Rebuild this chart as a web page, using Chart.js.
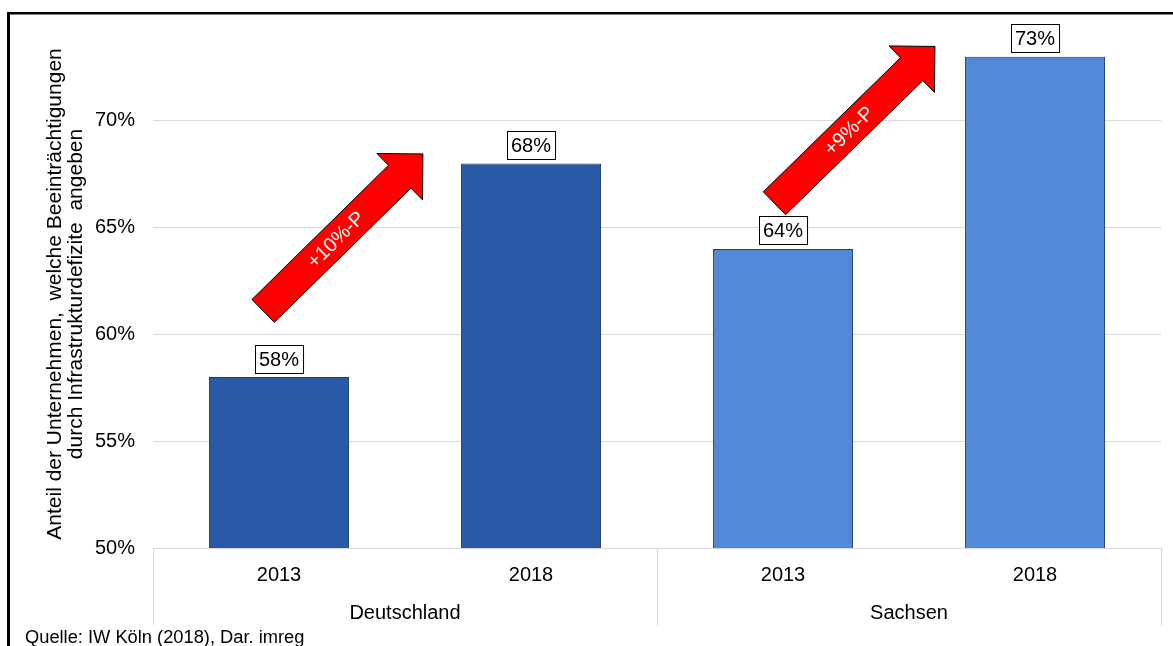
<!DOCTYPE html>
<html>
<head>
<meta charset="utf-8">
<script src="https://cdn.jsdelivr.net/npm/chart.js@4.4.1/dist/chart.umd.min.js"></script>
<style>
  html, body { margin: 0; padding: 0; background: #fff; }
  #wrap { position: absolute; left: 0; top: 0; width: 1173px; height: 646px; }
</style>
</head>
<body>
<div id="wrap"><canvas id="c" width="1173" height="646"></canvas></div>
<script>
// ---- data ----
const categories = ['2013', '2018', '2013', '2018'];
const groups = ['Deutschland', 'Sachsen'];
const values = [58, 68, 64, 73];
const yTickValues = [50, 55, 60, 65, 70];
const arrowLabels = ['+10%-P', '+9%-P'];
const yTitleLines = ['Anteil der Unternehmen,  welche Beeinträchtigungen', 'durch Infrastrukturdefizite  angeben'];
const sourceText = 'Quelle: IW Köln (2018), Dar. imreg';

// ---- styles ----
const FONT = '"Liberation Sans", Arial, sans-serif';
const barColors = ['#2A5AA5', '#2A5AA5', '#5288D6', '#5288D6'];
const gridColor = '#D9D9D9';

// arrow annotations in (category index, value) units
const arrowDefs = [
  { from: [-0.063, 61.1], to: [0.571, 68.45], label: arrowLabels[0], textShift: 6 },
  { from: [1.966, 66.14], to: [2.603, 73.48], label: arrowLabels[1], textShift: 8 }
];

function xAt(scale, v) {
  const a = scale.getPixelForValue(0);
  const b = scale.getPixelForValue(1);
  return a + v * (b - a);
}

const decorPlugin = {
  id: 'decor',
  afterDatasetsDraw(chart) {
    const ctx = chart.ctx;
    const xs = chart.scales.x, ys = chart.scales.y;
    // arrows
    arrowDefs.forEach(d => {
      const tx = xAt(xs, d.from[0]), ty = ys.getPixelForValue(d.from[1]);
      const px = xAt(xs, d.to[0]), py = ys.getPixelForValue(d.to[1]);
      const len = Math.hypot(px - tx, py - ty);
      const ux = (px - tx) / len, uy = (py - ty) / len;
      const nx = -uy, ny = ux;
      const sw = 16, hl = 32.5, hw = 32.5;
      const bx = px - ux * hl, by = py - uy * hl;
      const pts = [
        [tx + nx * sw, ty + ny * sw],
        [bx + nx * sw, by + ny * sw],
        [bx + nx * hw, by + ny * hw],
        [px, py],
        [bx - nx * hw, by - ny * hw],
        [bx - nx * sw, by - ny * sw],
        [tx - nx * sw, ty - ny * sw]
      ];
      ctx.save();
      ctx.beginPath();
      pts.forEach((p, k) => k ? ctx.lineTo(p[0], p[1]) : ctx.moveTo(p[0], p[1]));
      ctx.closePath();
      ctx.fillStyle = '#FF0000';
      ctx.fill();
      ctx.lineWidth = 1;
      ctx.strokeStyle = '#000';
      ctx.stroke();
      const mx = (tx + bx) / 2 + ux * d.textShift, my = (ty + by) / 2 + uy * d.textShift;
      ctx.translate(mx, my);
      ctx.rotate(Math.atan2(uy, ux));
      ctx.fillStyle = '#fff';
      ctx.font = '20px ' + FONT;
      ctx.textAlign = 'center';
      ctx.textBaseline = 'middle';
      ctx.fillText(d.label, 0, 1);
      ctx.restore();
    });
    // data labels with boxes
    const meta = chart.getDatasetMeta(0);
    ctx.save();
    ctx.font = '20px ' + FONT;
    meta.data.forEach((bar, i) => {
      const t = values[i] + '%';
      const w = ctx.measureText(t).width + 8;
      const h = 28;
      const x0 = Math.round(bar.x - w / 2) + 0.5;
      const y0 = Math.round(bar.y - 4.5 - h) + 0.5;
      ctx.fillStyle = '#fff';
      ctx.fillRect(x0, y0, w, h);
      ctx.strokeStyle = '#000';
      ctx.lineWidth = 1;
      ctx.strokeRect(x0, y0, w, h);
      ctx.fillStyle = '#000';
      ctx.textAlign = 'center';
      ctx.textBaseline = 'middle';
      ctx.fillText(t, bar.x, y0 + h / 2 + 1);
    });
    ctx.restore();
  },
  afterDraw(chart) {
    const ctx = chart.ctx;
    const xs = chart.scales.x;
    const area = chart.chartArea;
    ctx.save();
    // group separators
    const mid = (xs.getPixelForValue(1) + xs.getPixelForValue(2)) / 2;
    const bounds = [area.left, mid, area.right];
    ctx.strokeStyle = gridColor;
    ctx.lineWidth = 1;
    bounds.forEach(b => {
      const x = Math.round(b) + 0.5;
      ctx.beginPath();
      ctx.moveTo(x, area.bottom);
      ctx.lineTo(x, 625);
      ctx.stroke();
    });
    // group labels
    ctx.fillStyle = '#000';
    ctx.font = '20px ' + FONT;
    ctx.textAlign = 'center';
    ctx.textBaseline = 'middle';
    ctx.fillText(groups[0], (bounds[0] + bounds[1]) / 2, 613);
    ctx.fillText(groups[1], (bounds[1] + bounds[2]) / 2, 613);
    // y axis title
    ctx.save();
    ctx.translate(66, 294);
    ctx.rotate(-Math.PI / 2);
    ctx.font = '21px ' + FONT;
    ctx.fillText(yTitleLines[0], 0, -10.5);
    ctx.fillText(yTitleLines[1], 0, 10.5);
    ctx.restore();
    // source
    ctx.textAlign = 'left';
    ctx.textBaseline = 'alphabetic';
    ctx.font = '18.3px ' + FONT;
    ctx.fillText(sourceText, 25, 643);
    // frame
    ctx.fillStyle = '#000';
    ctx.fillRect(7, 12, 1166, 2.5);
    ctx.fillRect(7, 12, 3, 634);
    ctx.restore();
  }
};

new Chart(document.getElementById('c'), {
  type: 'bar',
  data: {
    labels: categories,
    datasets: [{
      data: values,
      backgroundColor: barColors,
      borderColor: '#1F3C6B',
      borderWidth: 1,
      categoryPercentage: 1,
      barPercentage: 0.556
    }]
  },
  options: {
    responsive: false,
    animation: false,
    devicePixelRatio: 1,
    layout: { padding: { top: 14, right: 12, left: 0, bottom: 0 } },
    plugins: { legend: { display: false }, tooltip: { enabled: false } },
    scales: {
      x: {
        grid: { display: false, drawTicks: false },
        border: { display: true, color: gridColor, width: 1 },
        ticks: { color: '#000', font: { size: 20, family: FONT }, padding: 15 },
        afterFit(s) { s.height = 98; s.paddingLeft = 0; s.paddingRight = 0; }
      },
      y: {
        min: 50, max: 75,
        grid: { color: gridColor, drawTicks: false },
        border: { display: false },
        ticks: {
          stepSize: 5, padding: 18, color: '#000',
          font: { size: 20, family: FONT },
          callback: v => v + '%'
        },
        afterBuildTicks(s) { s.ticks = yTickValues.map(v => ({ value: v })); },
        afterFit(s) { s.width = 153; s.paddingTop = 0; s.paddingBottom = 0; }
      }
    }
  },
  plugins: [decorPlugin]
});
</script>
</body>
</html>
